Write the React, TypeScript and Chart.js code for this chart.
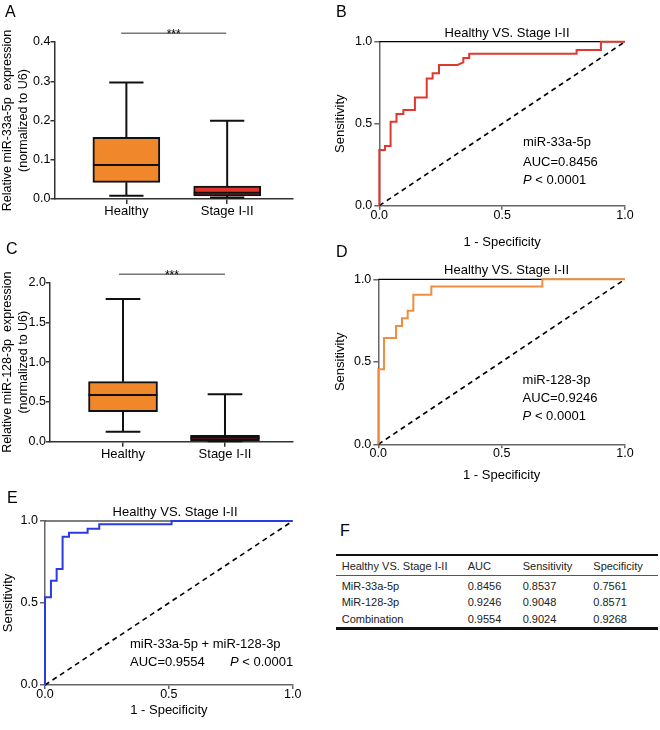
import React, { useEffect, useRef } from 'react';
import { Chart, registerables } from 'chart.js';

Chart.register(...registerables);

const FONT = '"Liberation Sans", Arial, Helvetica, sans-serif';
Chart.defaults.font.family = FONT;
Chart.defaults.color = '#000';

// ---------- Data ----------
const boxCategories = ['Healthy', 'Stage I-II'];
const boxColors = ['#F0882B', '#E2342C'];

// Panel A: miR-33a-5p
const aMin = [0.0085, 0.004];
const aQ1 = [0.0425, 0.0077];
const aMedian = [0.0866, 0.016];
const aQ3 = [0.157, 0.033];
const aMax = [0.297, 0.1995];
const aTicks = [0, 0.1, 0.2, 0.3, 0.4];

// Panel C: miR-128-3p
const cMin = [0.126, 0.005];
const cQ1 = [0.377, 0.012];
const cMedian = [0.587, 0.05];
const cQ3 = [0.755, 0.08];
const cMax = [1.795, 0.596];
const cTicks = [0, 0.5, 1.0, 1.5, 2.0];

const rocTicks = [0, 0.5, 1.0];

// Panel B ROC (miR-33a-5p)
const rocBFpr = [0, 0, 0.023, 0.023, 0.046, 0.046, 0.07, 0.07, 0.098, 0.098, 0.145, 0.145, 0.193, 0.193, 0.217, 0.217, 0.243, 0.243, 0.318, 0.342, 0.342, 0.366, 0.366, 0.803, 0.803, 0.902, 0.902, 1];
const rocBTpr = [0, 0.339, 0.339, 0.364, 0.364, 0.512, 0.512, 0.559, 0.559, 0.583, 0.583, 0.659, 0.659, 0.776, 0.776, 0.807, 0.807, 0.858, 0.858, 0.874, 0.9, 0.9, 0.927, 0.927, 0.949, 0.949, 1, 1];

// Panel D ROC (miR-128-3p)
const rocDFpr = [0, 0, 0.023, 0.023, 0.072, 0.072, 0.096, 0.096, 0.119, 0.119, 0.142, 0.142, 0.215, 0.215, 0.665, 0.665, 1];
const rocDTpr = [0, 0.455, 0.455, 0.644, 0.644, 0.717, 0.717, 0.764, 0.764, 0.81, 0.81, 0.907, 0.907, 0.956, 0.956, 1, 1];

// Panel E ROC (combination)
const rocEFpr = [0, 0, 0.024, 0.024, 0.047, 0.047, 0.071, 0.071, 0.097, 0.097, 0.172, 0.172, 0.219, 0.219, 0.511, 0.511, 1];
const rocETpr = [0, 0.535, 0.535, 0.636, 0.636, 0.707, 0.707, 0.904, 0.904, 0.929, 0.929, 0.953, 0.953, 0.98, 0.98, 1, 1];

// Panel F table
const tableHeader = ['Healthy VS. Stage I-II', 'AUC', 'Sensitivity', 'Specificity'];
const tableRowNames = ['MiR-33a-5p', 'MiR-128-3p', 'Combination'];
const tableAUC = ['0.8456', '0.9246', '0.9554'];
const tableSensitivity = ['0.8537', '0.9048', '0.9024'];
const tableSpecificity = ['0.7561', '0.8571', '0.9268'];

// ---------- Helpers ----------
type Part = { t: string; italic?: boolean };
type TextItem = { parts: Part[]; x: number; y: number; size: number; align?: 'left' | 'center'; dy?: number; color?: string };

function makeTextPlugin(items: TextItem[]) {
  return {
    id: 'panelTexts',
    afterDatasetsDraw(chart: any) {
      const ctx = chart.ctx;
      const xs = chart.scales.x;
      const ys = chart.scales.y;
      ctx.save();
      ctx.textBaseline = 'middle';
      ctx.textAlign = 'left';
      for (const it of items) {
        const fontFor = (p: Part) => `${p.italic ? 'italic ' : ''}${it.size}px ${FONT}`;
        let total = 0;
        for (const p of it.parts) {
          ctx.font = fontFor(p);
          total += ctx.measureText(p.t).width;
        }
        let x = xs.getPixelForValue(it.x);
        if (it.align === 'center') x -= total / 2;
        const y = ys.getPixelForValue(it.y) + (it.dy || 0);
        ctx.fillStyle = it.color || '#000';
        for (const p of it.parts) {
          ctx.font = fontFor(p);
          ctx.fillText(p.t, x, y);
          x += ctx.measureText(p.t).width;
        }
      }
      ctx.restore();
    },
  };
}

type Geom = { yw: number; top: number; right: number; xh: number };

function boxConfig(
  mins: number[], q1: number[], med: number[], q3: number[], maxs: number[],
  yMax: number, yTicks: number[], yTitle: string[], geom: Geom,
  xMin: number, xMax: number, barPx: number, halfBox: number, sig: { x0: number; x1: number; y: number }
) {
  const AX = '#333';
  const capHalf = 0.17;
  const whisk: any[] = [];
  const medLines: any[] = [];
  boxCategories.forEach((_, i) => {
    whisk.push({ x: i, y: q3[i] }, { x: i, y: maxs[i] }, { x: i, y: null });
    whisk.push({ x: i - capHalf, y: maxs[i] }, { x: i + capHalf, y: maxs[i] }, { x: i, y: null });
    whisk.push({ x: i, y: q1[i] }, { x: i, y: mins[i] }, { x: i, y: null });
    whisk.push({ x: i - capHalf, y: mins[i] }, { x: i + capHalf, y: mins[i] }, { x: i, y: null });
    medLines.push({ x: i - halfBox, y: med[i] }, { x: i + halfBox, y: med[i] }, { x: i, y: null });
  });
  return {
    type: 'bar',
    data: {
      datasets: [
        {
          type: 'line', data: whisk, borderColor: '#111', borderWidth: 2, pointRadius: 0,
          spanGaps: false, clip: false, order: 3, borderCapStyle: 'butt',
        },
        {
          type: 'bar',
          data: boxCategories.map((_, i) => ({ x: i, y: [q1[i], q3[i]] })),
          backgroundColor: boxColors, borderColor: '#111', borderWidth: 2, borderSkipped: false,
          barThickness: barPx, order: 2, clip: false,
        },
        {
          type: 'line', data: medLines, borderColor: '#111', borderWidth: 2, pointRadius: 0,
          spanGaps: false, clip: false, order: 1,
        },
        {
          type: 'line', data: [{ x: sig.x0, y: sig.y }, { x: sig.x1, y: sig.y }], borderColor: '#777',
          borderWidth: 1.5, pointRadius: 0, clip: false, order: 0,
        },
      ],
    },
    options: {
      animation: false, responsive: false, events: [],
      layout: { padding: { left: 0, top: geom.top, right: geom.right, bottom: 0 } },
      plugins: { legend: { display: false }, tooltip: { enabled: false }, title: { display: false } },
      scales: {
        x: {
          type: 'linear', min: xMin, max: xMax, offset: false,
          afterBuildTicks: (s: any) => { s.ticks = boxCategories.map((_, i) => ({ value: i })); },
          ticks: { callback: (v: any) => boxCategories[Math.round(v)], font: { size: 13 }, color: '#000', padding: 0, maxRotation: 0, autoSkip: false },
          grid: { display: true, offset: false, drawOnChartArea: false, drawTicks: true, tickLength: 5, color: AX, lineWidth: 1.5 },
          border: { display: true, color: AX, width: 1.5 },
          afterFit: (s: any) => { s.height = geom.xh; },
        },
        y: {
          type: 'linear', min: 0, max: yMax,
          afterBuildTicks: (s: any) => { s.ticks = yTicks.map((v) => ({ value: v })); },
          ticks: { callback: (v: any) => Number(v).toFixed(1), font: { size: 12.5 }, color: '#000', padding: 0 },
          grid: { display: true, drawOnChartArea: false, drawTicks: true, tickLength: 4, color: AX, lineWidth: 1.5 },
          border: { display: true, color: AX, width: 1.5 },
          title: { display: true, text: yTitle, font: { size: 12.5, lineHeight: 1.28 }, color: '#000', padding: { top: 0, bottom: 0 } },
          afterFit: (s: any) => { s.width = geom.yw; },
        },
      },
    },
    plugins: [
      makeTextPlugin([{ parts: [{ t: '***' }], x: (sig.x0 + sig.x1) / 2, y: sig.y, size: 12, align: 'center', dy: 1.5 }]),
    ],
  };
}

function rocConfig(fpr: number[], tpr: number[], color: string, geom: Geom, yTitlePad: number, xTitlePad: number, texts: TextItem[]) {
  const AX = '#666';
  return {
    type: 'line',
    data: {
      datasets: [
        {
          data: fpr.map((x, i) => ({ x, y: tpr[i] })), borderColor: color, borderWidth: 2, pointRadius: 0,
          clip: false, order: 1, tension: 0,
        },
        {
          data: [{ x: 0, y: 0 }, { x: 1, y: 1 }], borderColor: '#000', borderWidth: 1.6, borderDash: [5, 4],
          pointRadius: 0, order: 2, clip: false,
        },
        {
          data: [{ x: 0, y: 1 }, { x: 1, y: 1 }], borderColor: '#000', borderWidth: 1.2, pointRadius: 0,
          order: 3, clip: false,
        },
      ],
    },
    options: {
      animation: false, responsive: false, events: [],
      layout: { padding: { left: 0, top: geom.top, right: geom.right, bottom: 0 } },
      plugins: { legend: { display: false }, tooltip: { enabled: false }, title: { display: false } },
      scales: {
        x: {
          type: 'linear', min: 0, max: 1,
          afterBuildTicks: (s: any) => { s.ticks = rocTicks.map((v) => ({ value: v })); },
          ticks: { callback: (v: any) => Number(v).toFixed(1), font: { size: 12.5 }, color: '#000', padding: -2, maxRotation: 0, autoSkip: false },
          grid: { display: true, drawOnChartArea: false, drawTicks: true, tickLength: 4, color: AX, lineWidth: 1.5 },
          border: { display: true, color: AX, width: 1.5 },
          title: { display: true, text: '1 - Specificity', font: { size: 13 }, color: '#000', padding: { top: 0, bottom: xTitlePad } },
          afterFit: (s: any) => { s.height = geom.xh; },
        },
        y: {
          type: 'linear', min: 0, max: 1,
          afterBuildTicks: (s: any) => { s.ticks = rocTicks.map((v) => ({ value: v })); },
          ticks: { callback: (v: any) => Number(v).toFixed(1), font: { size: 12.5 }, color: '#000', padding: 2 },
          grid: { display: true, drawOnChartArea: false, drawTicks: true, tickLength: 5, color: AX, lineWidth: 1.5 },
          border: { display: true, color: AX, width: 1.5 },
          title: { display: true, text: 'Sensitivity', font: { size: 13 }, color: '#000', padding: { top: yTitlePad, bottom: 0 } },
          afterFit: (s: any) => { s.width = geom.yw; },
        },
      },
    },
    plugins: [makeTextPlugin(texts)],
  };
}

const titleText = 'Healthy VS. Stage I-II';
const pParts: Part[] = [{ t: 'P', italic: true }, { t: ' < 0.0001' }];

function ChartCanvas(props: { make: () => any; left: number; top: number; width: number; height: number }) {
  const ref = useRef<HTMLCanvasElement>(null);
  useEffect(() => {
    const chart = new Chart(ref.current as HTMLCanvasElement, props.make());
    return () => chart.destroy();
  }, []);
  return (
    <canvas
      ref={ref}
      width={props.width}
      height={props.height}
      style={{ position: 'absolute', left: props.left, top: props.top, width: props.width, height: props.height }}
    />
  );
}

const labelStyle = (left: number, top: number): React.CSSProperties => ({
  position: 'absolute', left, top, fontFamily: FONT, fontSize: 16, lineHeight: '16px', color: '#000',
});

export default function App() {
  const colX = [341.7, 467.7, 522.7, 593.3];
  const rowY = [585.5, 602, 618.5];
  const cell = (text: string, x: number, y: number, key: string) => (
    <div key={key} style={{ position: 'absolute', left: x, top: y - 7, fontFamily: FONT, fontSize: 11, lineHeight: '14px', color: '#222', whiteSpace: 'nowrap' }}>
      {text}
    </div>
  );
  return (
    <div style={{ position: 'absolute', left: 0, top: 0, width: 660, height: 730, background: '#fff', overflow: 'hidden' }}>
      <ChartCanvas
        left={0} top={0} width={330} height={230}
        make={() => boxConfig(aMin, aQ1, aMedian, aQ3, aMax, 0.4, aTicks,
          ['Relative miR-33a-5p  expression', '(normalized to U6)'],
          { yw: 54.5, top: 42, right: 37, xh: 31 }, -0.713, 1.653, 67, 0.332,
          { x0: -0.052, x1: 0.99, y: 0.422 })}
      />
      <ChartCanvas
        left={0} top={235} width={330} height={240}
        make={() => boxConfig(cMin, cQ1, cMedian, cQ3, cMax, 2.0, cTicks,
          ['Relative miR-128-3p  expression', '(normalized to U6)'],
          { yw: 50, top: 47.7, right: 37, xh: 33.3 }, -0.716, 1.667, 69, 0.338,
          { x0: -0.04, x1: 1.0, y: 2.106 })}
      />
      <ChartCanvas
        left={330} top={0} width={330} height={250}
        make={() => rocConfig(rocBFpr, rocBTpr, '#E0382F', { yw: 49.3, top: 41.7, right: 35, xh: 44.3 }, 2.2, 0.2, [
          { parts: [{ t: titleText }], x: 0.52, y: 1.053, size: 13, align: 'center' },
          { parts: [{ t: 'miR-33a-5p' }], x: 0.585, y: 0.388, size: 13 },
          { parts: [{ t: 'AUC=0.8456' }], x: 0.585, y: 0.266, size: 13 },
          { parts: pParts, x: 0.585, y: 0.157, size: 13 },
        ])}
      />
      <ChartCanvas
        left={330} top={235} width={330} height={250}
        make={() => rocConfig(rocDFpr, rocDTpr, '#EE8E3E', { yw: 48.3, top: 44.3, right: 35, xh: 40.7 }, 2.2, 1.5, [
          { parts: [{ t: titleText }], x: 0.52, y: 1.056, size: 13, align: 'center' },
          { parts: [{ t: 'miR-128-3p' }], x: 0.585, y: 0.385, size: 13 },
          { parts: [{ t: 'AUC=0.9246' }], x: 0.585, y: 0.279, size: 13 },
          { parts: pParts, x: 0.585, y: 0.167, size: 13 },
        ])}
      />
      <ChartCanvas
        left={0} top={480} width={330} height={250}
        make={() => rocConfig(rocEFpr, rocETpr, '#2A3BE0', { yw: 45, top: 41, right: 37.3, xh: 45 }, 0.5, 12.2, [
          { parts: [{ t: titleText }], x: 0.525, y: 1.053, size: 13, align: 'center' },
          { parts: [{ t: 'miR-33a-5p + miR-128-3p' }], x: 0.343, y: 0.25, size: 13 },
          { parts: [{ t: 'AUC=0.9554' }], x: 0.343, y: 0.136, size: 13 },
          { parts: pParts, x: 0.747, y: 0.136, size: 13 },
        ])}
      />

      <div style={labelStyle(5, 4)}>A</div>
      <div style={labelStyle(336, 4)}>B</div>
      <div style={labelStyle(6, 241)}>C</div>
      <div style={labelStyle(336, 244)}>D</div>
      <div style={labelStyle(7, 490)}>E</div>
      <div style={labelStyle(340, 523)}>F</div>

      {/* Table F */}
      <div style={{ position: 'absolute', left: 336, top: 553.5, width: 322, height: 2.5, background: '#111' }} />
      {tableHeader.map((h, i) => cell(h, colX[i], 566, 'h' + i))}
      <div style={{ position: 'absolute', left: 336, top: 575, width: 322, height: 1, background: '#555' }} />
      {tableRowNames.map((r, j) => (
        <React.Fragment key={'r' + j}>
          {cell(r, colX[0], rowY[j], 'n' + j)}
          {cell(tableAUC[j], colX[1], rowY[j], 'a' + j)}
          {cell(tableSensitivity[j], colX[2], rowY[j], 's' + j)}
          {cell(tableSpecificity[j], colX[3], rowY[j], 'p' + j)}
        </React.Fragment>
      ))}
      <div style={{ position: 'absolute', left: 336, top: 627, width: 322, height: 2.5, background: '#111' }} />
    </div>
  );
}
